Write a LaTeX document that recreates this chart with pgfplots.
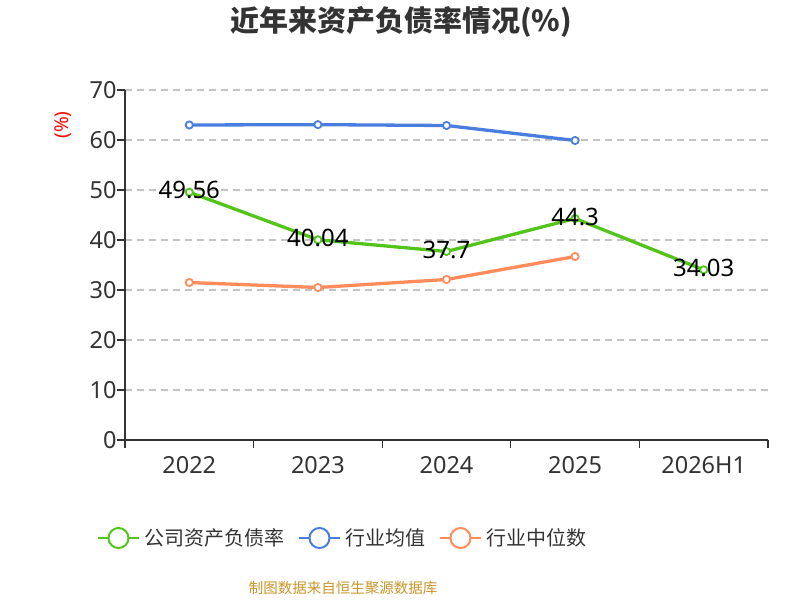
\documentclass[border=0pt]{standalone}
\usepackage{pgfplots}
\pgfplotsset{compat=1.18}
\usepackage{fontspec}
\setmainfont{Noto Sans}
\newfontfamily\cjk{Noto Sans CJK SC}
\definecolor{cgreen}{RGB}{82,196,26}
\definecolor{cblue}{RGB}{74,126,222}
\definecolor{corange}{RGB}{255,140,90}
\definecolor{cdark}{RGB}{51,51,51}
\definecolor{cgrid}{RGB}{195,195,195}
\definecolor{csrc}{RGB}{200,150,40}
\begin{document}
\begin{tikzpicture}[x=1pt,y=1pt]
\path[use as bounding box] (0,0) rectangle (800,600);
\node[font=\cjk\bfseries\fontsize{29}{33}\selectfont, text=cdark] at (401,578) {近年来资产负债率情况(\%)};
\node[font=\cjk\fontsize{14.5}{16}\selectfont, text=csrc] at (343,12) {制图数据来自恒生聚源数据库};
\begin{axis}[
  at={(125pt,160pt)}, anchor=south west,
  scale only axis, width=643pt, height=350pt,
  xmin=-0.5, xmax=4.5, ymin=0, ymax=70,
  axis x line*=bottom, axis y line*=left,
  axis line style={-, draw=cdark, line width=1.3pt},
  ytick={0,10,...,70},
  ymajorgrids, grid style={cgrid, line width=1.3pt, dash pattern=on 7pt off 5pt},
  tick align=outside, major tick length=8pt,
  tick style={draw=cdark, line width=1.3pt},
  xtick={-0.5,0.5,1.5,2.5,3.5,4.5}, xticklabels={},
  extra x ticks={0,1,2,3,4},
  extra x tick labels={2022,2023,2024,2025,2026H1},
  extra x tick style={major tick length=0pt},
  /pgf/number format/assume math mode=true,
  ticklabel style={font=\fontsize{23.5}{26}\selectfont, text=cdark},
  xticklabel style={yshift=-13pt},
  yticklabel style={xshift=3pt},
  ylabel={(\%)},
  ylabel style={at={(axis description cs:-0.0964,0.9)}, anchor=center, font=\fontsize{19}{21}\selectfont, text=red},
  legend columns=3,
  legend style={at={(axis description cs:0.3406,-0.28)}, anchor=center, draw=none, fill=none,
    font=\cjk\fontsize{20}{24}\selectfont, text=cdark,
    nodes={inner xsep=4.5pt}},
  legend image code/.code={
    \draw[#1, line width=2pt] (0pt,0pt) -- (41pt,0pt);
    \draw[#1, line width=2pt, fill=white] (20.5pt,0pt) circle (10pt);
  },
  clip=false,
]
\addlegendimage{cgreen}
\addlegendentry{公司资产负债率\hspace{9pt}\null}
\addlegendimage{cblue}
\addlegendentry{行业均值\hspace{9pt}\null}
\addlegendimage{corange}
\addlegendentry{行业中位数}

\addplot[forget plot, cblue, line width=3.3pt, mark=*, mark size=3.6pt,
  mark options={fill=white, draw=cblue, line width=1.8pt}]
  coordinates {(0,63.0) (1,63.07) (2,62.9) (3,59.9)};
\addplot[forget plot, corange, line width=3.3pt, mark=*, mark size=3.6pt,
  mark options={fill=white, draw=corange, line width=1.8pt}]
  coordinates {(0,31.5) (1,30.5) (2,32.1) (3,36.7)};
\addplot[forget plot, cgreen, line width=3.3pt, mark=*, mark size=3.6pt,
  mark options={fill=white, draw=cgreen, line width=1.8pt},
  nodes near coords, point meta=explicit symbolic,
  nodes near coords style={font=\fontsize{24}{27}\selectfont, text=black, anchor=center, yshift=2pt}]
  coordinates {(0,49.56) [49.56] (1,40.04) [40.04] (2,37.7) [37.7] (3,44.3) [44.3] (4,34.03) [34.03]};
\end{axis}
\end{tikzpicture}
\end{document}
